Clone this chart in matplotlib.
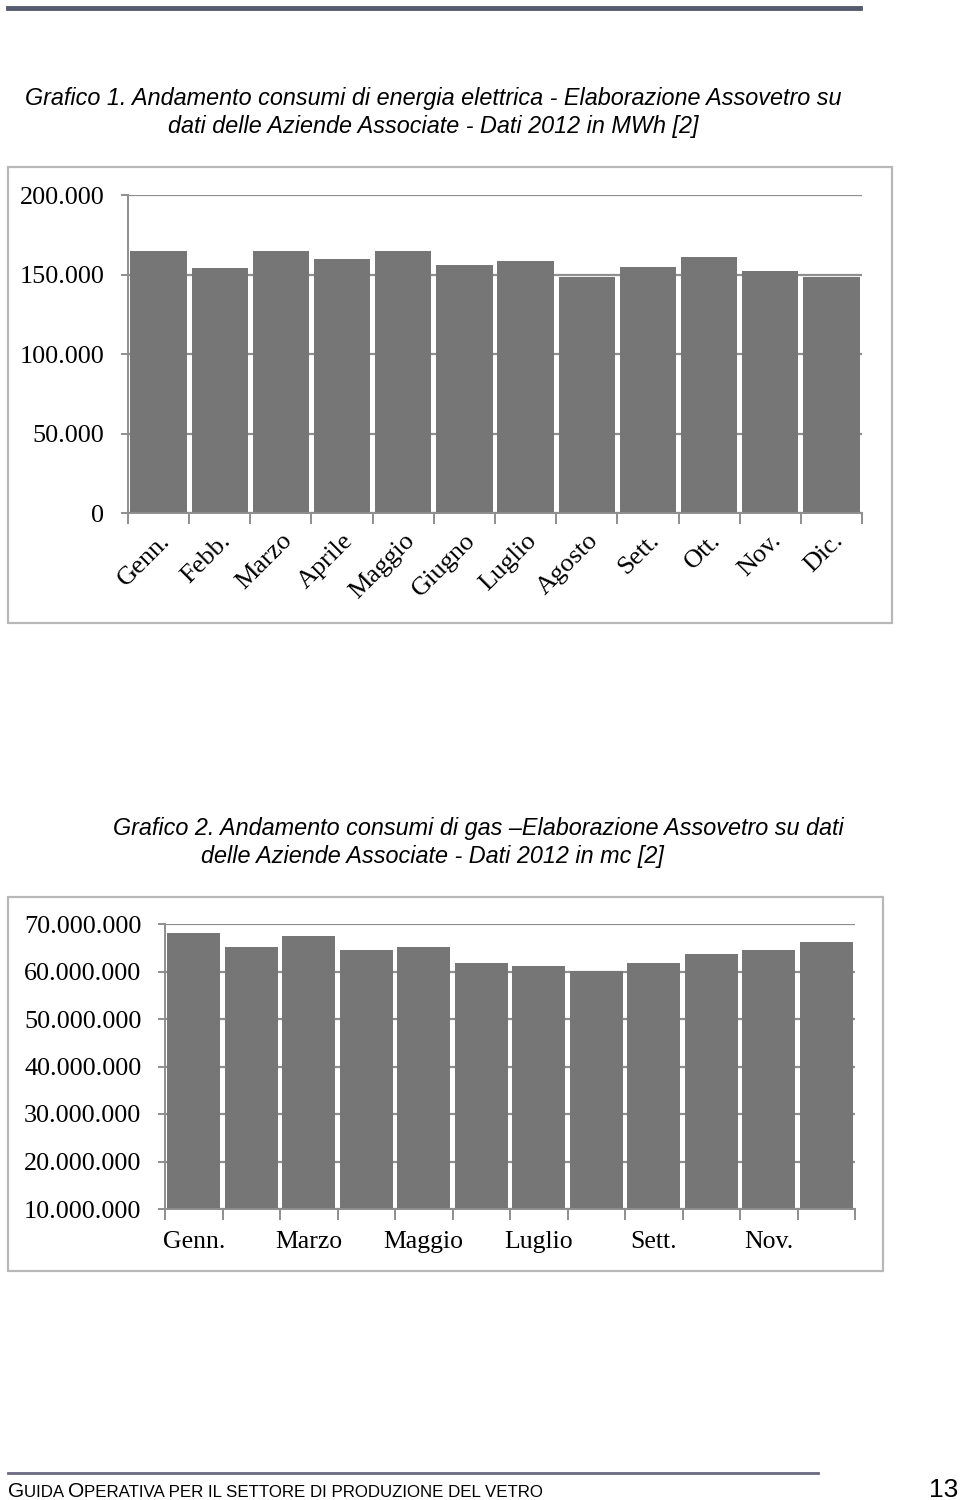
import matplotlib.pyplot as plt
import numpy as np
from matplotlib.ticker import FuncFormatter

# data
mesi = ['Genn.', 'Febb.', 'Marzo', 'Aprile', 'Maggio', 'Giugno',
        'Luglio', 'Agosto', 'Sett.', 'Ott.', 'Nov.', 'Dic.']
energia_mwh = [164600, 153900, 164600, 159800, 164800, 156200,
               158700, 148500, 154800, 161000, 152300, 148500]
gas_mc = [68200000, 65100000, 67500000, 64600000, 65200000, 61700000,
          61200000, 60100000, 61700000, 63700000, 64500000, 66200000]
yticks_1 = [0, 50000, 100000, 150000, 200000]
yticks_2 = [10000000, 20000000, 30000000, 40000000, 50000000, 60000000, 70000000]

titolo_1 = ['Grafico 1. Andamento consumi di energia elettrica - Elaborazione Assovetro su',
            'dati delle Aziende Associate - Dati 2012 in MWh [2]']
titolo_2 = ['Grafico 2. Andamento consumi di gas \u2013Elaborazione Assovetro su dati',
            'delle Aziende Associate - Dati 2012 in mc [2]']
# small caps footer: (text, is_big)
footer = [('G', True), ('UIDA ', False), ('O', True),
          ('PERATIVA PER IL SETTORE DI PRODUZIONE DEL VETRO', False)]
pagina = '13'

W, H = 960, 1500
BAR = '#767676'
GRID = '#8e8e8e'
BORDER = '#b8b8b8'
SANS = 'Liberation Sans'
SERIF = 'Liberation Serif'

fig = plt.figure(figsize=(W / 100, H / 100), dpi=100)


def fx(px):
    return px / W


def fy(py):
    return 1 - py / H


def dot_fmt(v, pos):
    return f'{v:,.0f}'.replace(',', '.')


def frame(x0, y0, x1, y1):
    r = plt.Rectangle((fx(x0), fy(y1)), fx(x1 - x0), (y1 - y0) / H,
                      transform=fig.transFigure, fill=False, edgecolor=BORDER, lw=1.6)
    fig.add_artist(r)


def bar_axes(x0, y0, x1, y1, values, ylim, yticks):
    ax = fig.add_axes([fx(x0), fy(y1), fx(x1 - x0), (y1 - y0) / H])
    x = np.arange(len(values))
    ax.bar(x, values, width=0.92, color=BAR, zorder=2)
    ax.set_xlim(-0.5, len(values) - 0.5)
    ax.set_ylim(*ylim)
    ax.set_yticks(yticks)
    ax.yaxis.set_major_formatter(FuncFormatter(dot_fmt))
    ax.grid(axis='y', color=GRID, lw=1.6, zorder=1)
    ax.set_axisbelow(True)
    for s in ['top', 'right']:
        ax.spines[s].set_visible(False)
    for s in ['left', 'bottom']:
        ax.spines[s].set_color(GRID)
        ax.spines[s].set_linewidth(1.4)
    ax.tick_params(axis='y', length=5, color=GRID, width=1.4, pad=12)
    ax.set_xticks(np.arange(len(values) + 1) - 0.5)
    ax.tick_params(axis='x', which='major', length=8, color=GRID, width=1.4,
                   labelbottom=False)
    for lab in ax.get_yticklabels():
        lab.set_fontfamily(SERIF)
        lab.set_fontsize(18.8)
    return ax


# top rule
fig.add_artist(plt.Line2D([fx(8), fx(860)], [fy(8), fy(8)], transform=fig.transFigure,
                          color='#555a6e', lw=3.5))

# --- Grafico 1 ---
fig.text(fx(433), fy(99), titolo_1[0], ha='center', va='center', fontsize=16.8,
         style='italic', family=SANS)
fig.text(fx(433), fy(127), titolo_1[1], ha='center', va='center', fontsize=16.8,
         style='italic', family=SANS)
frame(8, 167, 892, 623)
ax1 = bar_axes(128, 195, 862, 513, energia_mwh, (0, 200000), yticks_1)
ax1.set_xticks(np.arange(len(mesi)), minor=True)
ax1.set_xticklabels(mesi, minor=True, rotation=45, ha='right', va='top',
                    rotation_mode='anchor', fontsize=19, family=SERIF)
ax1.tick_params(axis='x', which='minor', length=0, pad=12)

# --- Grafico 2 ---
fig.text(fx(113), fy(829), titolo_2[0], ha='left', va='center', fontsize=16.8,
         style='italic', family=SANS)
fig.text(fx(201), fy(857), titolo_2[1], ha='left', va='center', fontsize=16.8,
         style='italic', family=SANS)
frame(8, 897, 883, 1271)
ax2 = bar_axes(165, 924, 855, 1209, gas_mc, (10000000, 70000000), yticks_2)
ax2.set_xticks(np.arange(0, len(mesi), 2), minor=True)
ax2.set_xticklabels(mesi[::2], minor=True, fontsize=18.5, family=SERIF)
ax2.tick_params(axis='x', which='minor', length=0, pad=16)

# --- footer ---
fig.add_artist(plt.Line2D([fx(8), fx(818)], [fy(1473), fy(1473)], transform=fig.transFigure,
                          color='#6b6a80', lw=2))
fig.canvas.draw()
renderer = fig.canvas.get_renderer()
xpos = 8
for piece, big in footer:
    t = fig.text(fx(xpos), fy(1497), piece, ha='left', va='baseline',
                 fontsize=15 if big else 12.2, family=SANS)
    xpos += t.get_window_extent(renderer).width
fig.text(fx(958), fy(1497), pagina, ha='right', va='baseline', fontsize=19, family=SANS)

fig.savefig('out.png', dpi=100)
